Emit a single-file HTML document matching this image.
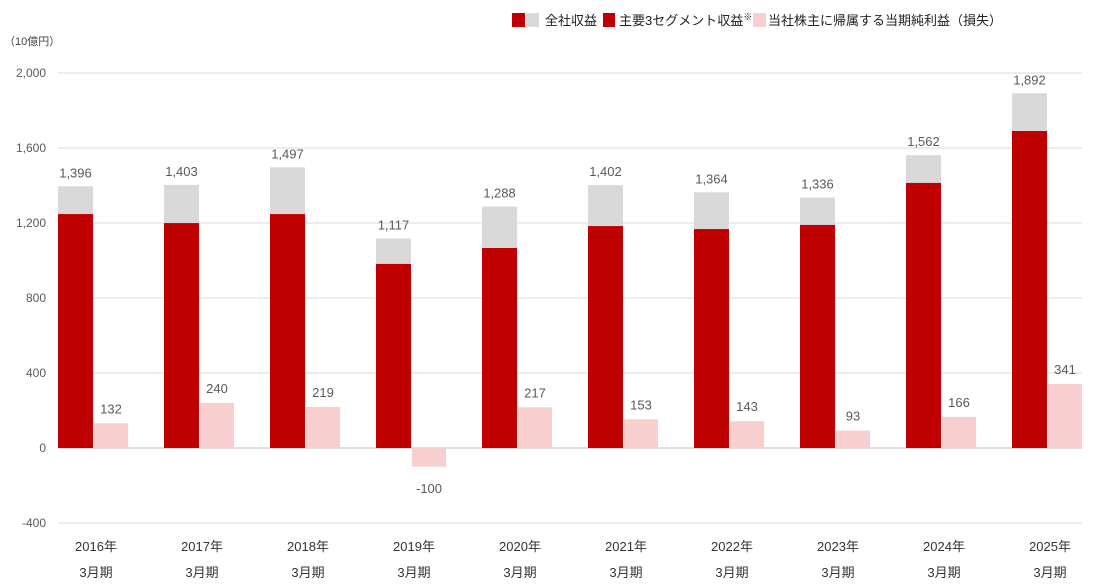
<!DOCTYPE html>
<html><head><meta charset="utf-8"><style>
body{margin:0;background:#fff;}
svg{display:block;font-family:"Liberation Sans","Noto Sans CJK JP",sans-serif;}
</style></head><body>
<svg id="c" width="1093" height="585">
<g font-size="13" fill="#222">
<rect x="512" y="13" width="13" height="14" fill="#c00000"/>
<rect x="526" y="13" width="13" height="14" fill="#d9d9d9"/>
<text x="545" y="25">全社収益</text>
<rect x="603" y="13" width="12" height="14" fill="#c00000"/>
<text x="619" y="25">主要3セグメント収益<tspan font-size="9" dy="-5">※</tspan></text>
<rect x="753" y="13" width="13" height="14" fill="#f8cfcf"/>
<text x="768" y="25">当社株主に帰属する当期純利益（損失）</text>
</g>
<text x="4" y="45" font-size="11" fill="#444">（10億円）</text>
<g id="grid"></g><g id="bars"></g><g id="labels"></g>
</svg>
<script>
const categories=["2016年","2017年","2018年","2019年","2020年","2021年","2022年","2023年","2024年","2025年"];
const totalRevenue=[1396,1403,1497,1117,1288,1402,1364,1336,1562,1892];
const segmentRevenue=[1253,1205,1253,987,1072,1189,1173,1195,1419,1696];
const netProfit=[132,240,219,-100,217,153,143,93,166,341];
const yTicks=[-400,0,400,800,1200,1600,2000];
const NS="http://www.w3.org/2000/svg";
const y=v=>448-v*0.1875;
const x=i=>58+i*106;
function mk(t,a,p,txt){const e=document.createElementNS(NS,t);for(const k in a)e.setAttribute(k,a[k]);if(txt!==undefined)e.textContent=txt;p.appendChild(e);return e;}
const G=document.getElementById('grid'),B=document.getElementById('bars'),L=document.getElementById('labels');
yTicks.forEach(v=>{
 const l=mk('line',{x1:58,x2:1082,y1:y(v),y2:y(v),stroke:v===0?'#bfbfbf':'#d9d9d9','stroke-width':1},G);
 
 
 const t=mk('text',{x:46,y:y(v)+4,'text-anchor':'end','font-size':12,fill:'#595959'},G,v.toLocaleString('en-US'));
 
 
});
categories.forEach((c,i)=>{
 const x0=x(i);
 const r1=mk('rect',{x:x0,y:y(totalRevenue[i]),width:35,height:y(0)-y(totalRevenue[i]),fill:'#d9d9d9'},B);
 
 
 const r2=mk('rect',{x:x0,y:y(segmentRevenue[i])+1,width:35,height:y(0)-y(segmentRevenue[i])-1,fill:'#c00000'},B);
 
 
 const p=netProfit[i],top=Math.min(y(p),y(0)),h=Math.abs(y(p)-y(0));
 const r3=mk('rect',{x:x0+36,y:top,width:34,height:h,fill:'#f8cfcf'},B);
 
 
 const t1=mk('text',{x:x0+17.5,y:y(totalRevenue[i])-9,'text-anchor':'middle','font-size':13,fill:'#595959'},L,totalRevenue[i].toLocaleString('en-US'));
 
 
 const t2=mk('text',{x:x0+53,y:p>=0?y(p)-10:y(p)+26,'text-anchor':'middle','font-size':13,fill:'#595959'},L,p.toLocaleString('en-US'));
 
 
 const t3=mk('text',{x:x0+38,y:551,'text-anchor':'middle','font-size':13,fill:'#333'},L,c);
 
 
 const t4=mk('text',{x:x0+38,y:577,'text-anchor':'middle','font-size':13,fill:'#333'},L,'3月期');
 
 
});
</script>
</body></html>
